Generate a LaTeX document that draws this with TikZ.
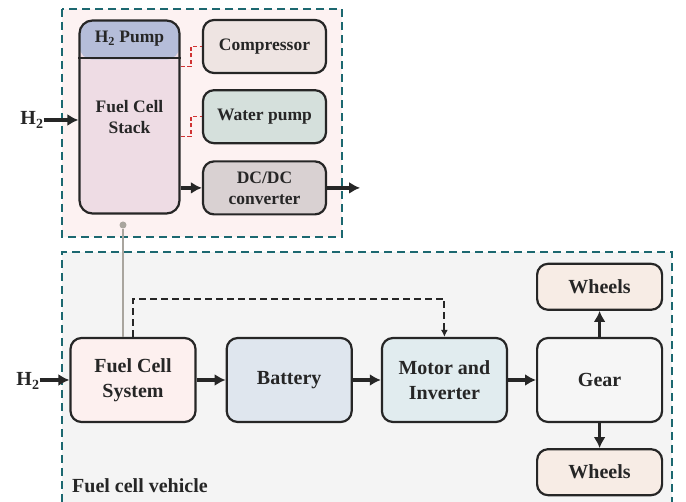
\documentclass[tikz,border=0pt]{standalone}
\usepackage{fontspec}
\setmainfont{Liberation Serif}
\usepackage{xcolor}
\usetikzlibrary{arrows.meta,positioning,calc}

\definecolor{ink}{HTML}{262626}
\definecolor{teal}{HTML}{1C6870}
\definecolor{toppink}{HTML}{FDF2F2}
\definecolor{vehgray}{HTML}{F4F4F4}
\definecolor{pumpblue}{HTML}{B5BDD9}
\definecolor{stackpink}{HTML}{EEDCE4}
\definecolor{comprose}{HTML}{EEE4E2}
\definecolor{watergreen}{HTML}{D5E0DC}
\definecolor{dcgray}{HTML}{D9D1D2}
\definecolor{fcspink}{HTML}{FDF0EF}
\definecolor{batblue}{HTML}{DFE6EE}
\definecolor{motorblue}{HTML}{E1ECEF}
\definecolor{gearwhite}{HTML}{F6F6F6}
\definecolor{wheelpeach}{HTML}{F7ECE5}
\definecolor{taplink}{HTML}{A9A59E}
\definecolor{ctrlred}{HTML}{D03434}

\begin{document}
\begin{tikzpicture}[x=1pt,y=-1pt,
  node distance=28pt,
  block/.style={rectangle,draw=ink,line width=2.2pt,rounded corners=11pt,align=center,
                text=ink,font=\fontsize{20}{25.5}\selectfont\bfseries,
                minimum width=125pt,minimum height=84pt},
  part/.style={block,font=\fontsize{17.5}{21}\selectfont\bfseries,
               minimum width=123pt,minimum height=53pt},
  tag/.style={text=ink,font=\fontsize{20}{24}\selectfont\bfseries,inner sep=0pt},
  frame/.style={draw=teal,line width=2pt,dash pattern=on 8pt off 5pt},
  edge/.style={-{Latex[length=11pt,width=12pt]},line width=3.5pt,draw=ink},
  ctrl/.style={-{Latex[length=7pt,width=7pt]},line width=2pt,draw=ink,
               dash pattern=on 7pt off 4pt},
  aux/.style={line width=1.4pt,draw=ctrlred,dash pattern=on 4pt off 2.5pt},
  tap/.style={line width=2pt,draw=taplink}]
\useasboundingbox (0,0) rectangle (686,502);

% frames
\draw[frame,fill=toppink] (62,9) rectangle (342,237);
\fill[vehgray] (62,252) rectangle (672,502);
\draw[frame] (62,502) -- (62,252) -- (672,252) -- (672,502);
\node[tag,anchor=west] (vehicle) at (72,486) {Fuel cell vehicle};

% fuel cell system detail
\node[block,fill=stackpink,font=\fontsize{17.5}{21}\selectfont\bfseries,
      minimum width=100pt,minimum height=193pt,rounded corners=13pt,
      path picture={\fill[pumpblue] (path picture bounding box.north west)
        rectangle ([yshift=-39pt]path picture bounding box.north east);}]
      (stack) at (129.5,117) {Fuel Cell\\Stack};
\draw[line width=2pt,draw=ink] ([yshift=-39pt]stack.north west) -- ([yshift=-39pt]stack.north east);
\node[tag,font=\fontsize{17.5}{21}\selectfont\bfseries,below=0pt of stack.north,
      minimum height=39pt] (pump) {H\textsubscript{2} Pump};
\node[part,fill=comprose] (comp) at (264.5,46.5) {Compressor};
\node[part,fill=watergreen,below=15pt of comp] (water) {Water pump};
\node[part,fill=dcgray,below=16pt of water] (dcdc) {DC/DC\\converter};
\node[tag] (h2top) at (32,120) {H\textsubscript{2}};
\coordinate[right=33pt of dcdc.east] (out);

\draw[edge] (h2top) -- (h2top -| stack.west);
\draw[edge] (stack.east |- dcdc) -- (dcdc);
\draw[edge] (dcdc) -- (out);
\draw[aux] ([yshift=-20pt]comp.west -| stack.east) -| ([xshift=-11pt]comp.west) -- (comp.west);
\draw[aux] ([yshift=-20pt]water.west -| stack.east) -| ([xshift=-11pt]water.west) -- (water.west);

% vehicle drive train
\node[block,fill=fcspink] (fcs) at (133,380) {Fuel Cell\\System};
\node[block,fill=batblue,right=29pt of fcs] (battery) {Battery};
\node[block,fill=motorblue,right=of battery] (motor) {Motor and\\Inverter};
\node[block,fill=gearwhite,right=of motor] (gear) {Gear};
\node[block,fill=wheelpeach,minimum height=46pt,above=26pt of gear] (wheelsup) {Wheels};
\node[block,fill=wheelpeach,minimum height=46pt,below=25pt of gear] (wheelsdown) {Wheels};
\node[tag] (h2bot) at (28,381) {H\textsubscript{2}};

\draw[edge] (h2bot.east |- fcs) -- (fcs);
\draw[edge] (fcs) -- (battery);
\draw[edge] (battery) -- (motor);
\draw[edge] (motor) -- (gear);
\draw[edge] (gear) -- (wheelsup);
\draw[edge] (gear) -- (wheelsdown);
\draw[ctrl] (fcs.north) -- ++(0,-38) -| (motor.north);

% link between the two views
\node[circle,fill=taplink,inner sep=0pt,minimum size=7pt] (tapdot) at (123,225) {};
\draw[tap] (tapdot) -- (tapdot |- fcs.north);
\end{tikzpicture}
\end{document}
